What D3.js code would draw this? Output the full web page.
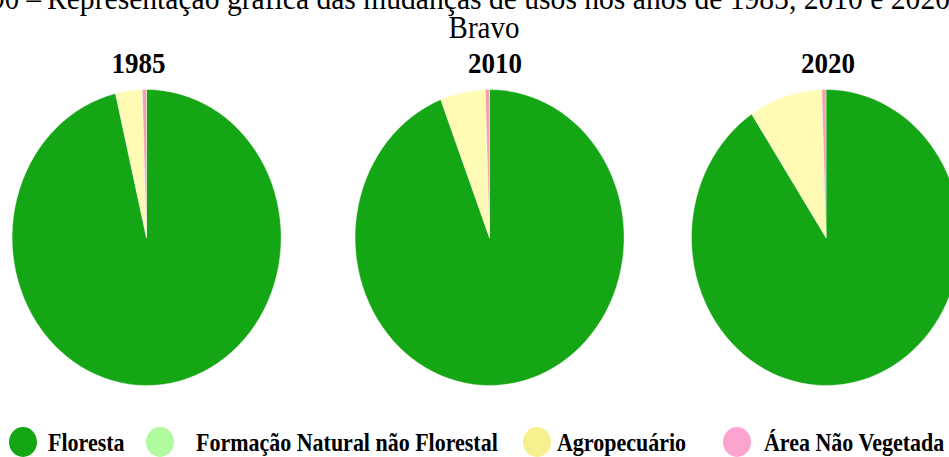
<!DOCTYPE html>
<html>
<head>
<meta charset="utf-8">
<script src="https://cdn.jsdelivr.net/npm/d3@7"></script>
<style>
  html, body { margin: 0; padding: 0; background: #fff; }
  svg { display: block; }
  svg text { font-family: "Liberation Serif", "Times New Roman", "DejaVu Serif", serif; }
</style>
</head>
<body>
<svg id="chart" width="949" height="457"></svg>
<script>
// Land-use shares (%) per year
const years = ["1985", "2010", "2020"];
const classes = ["Floresta", "Formação Natural não Florestal", "Agropecuário", "Área Não Vegetada"];
const floresta = [96.3, 94.1, 90.7];
const formacaoNatural = [0.0, 0.0, 0.0];
const agropecuario = [3.2, 5.4, 8.8];
const areaNaoVegetada = [0.5, 0.5, 0.5];

const titleNumber = "90 –";
const titleLine1 = "Representação gráfica das mudanças de usos nos anos de 1985, 2010 e 2020";
const titleLine2 = "Bravo";

const sliceColors = ["#15a615", "#b2f7a4", "#fffbb5", "#f3a0ad"];
const legendColors = ["#15a615", "#b0fba0", "#f7f08e", "#fca4cf"];

const svg = d3.select("#chart");

// Text helper: glyphs are drawn slightly taller than wide
function label(x, y, str, size, opts = {}) {
  const t = svg.append("text")
    .attr("transform", `translate(${x},${y}) scale(1,${opts.sy || 1})`)
    .attr("text-anchor", opts.anchor || "start")
    .attr("font-size", size)
    .attr("font-weight", opts.bold ? "bold" : "normal")
    .text(str);
  if (opts.len) t.attr("textLength", opts.len).attr("lengthAdjust", "spacingAndGlyphs");
  return t;
}

// Title (first line runs off the top edge)
label(41, 9, titleNumber, 29, { anchor: "end", sy: 1.12 });
label(47, 9, titleLine1, 29, { sy: 1.12, len: 903 });
label(484, 38, titleLine2, 29, { anchor: "middle", sy: 1.12 });

// Layout of the three pies
const cx = d3.scaleOrdinal().domain(years).range([146.5, 489.5, 826]);
const titleX = d3.scaleOrdinal().domain(years).range([138.5, 495, 828]);
const cy = 237.5, rx = 134.5, ry = 148;

const pie = d3.pie().sort(null).value(d => d.value);
const arc = d3.arc().innerRadius(0).outerRadius(1);
const color = d3.scaleOrdinal().domain(classes).range(sliceColors);

years.forEach((yr, i) => {
  const rows = [
    { cls: classes[0], value: floresta[i] },
    { cls: classes[1], value: formacaoNatural[i] },
    { cls: classes[2], value: agropecuario[i] },
    { cls: classes[3], value: areaNaoVegetada[i] }
  ];
  const g = svg.append("g")
    .attr("transform", `translate(${cx(yr)},${cy}) scale(${rx},${ry})`);
  g.selectAll("path")
    .data(pie(rows).filter(d => d.data.value > 0))
    .join("path")
    .attr("d", arc)
    .attr("fill", d => color(d.data.cls))
    .attr("stroke", "#fff")
    .attr("stroke-width", 0.4)
    .attr("vector-effect", "non-scaling-stroke");

  label(titleX(yr), 73, yr, 27, { anchor: "middle", bold: true, sy: 1.06 });
});

// Legend
const legendDotX = [23, 160, 537, 737];
const legendTextX = [48, 196, 557, 764];
classes.forEach((c, i) => {
  svg.append("ellipse")
    .attr("cx", legendDotX[i]).attr("cy", 442)
    .attr("rx", 14).attr("ry", 15)
    .attr("fill", legendColors[i]);
  label(legendTextX[i], 451, c, 22, { bold: true, sy: 1.15 });
});
</script>
</body>
</html>
